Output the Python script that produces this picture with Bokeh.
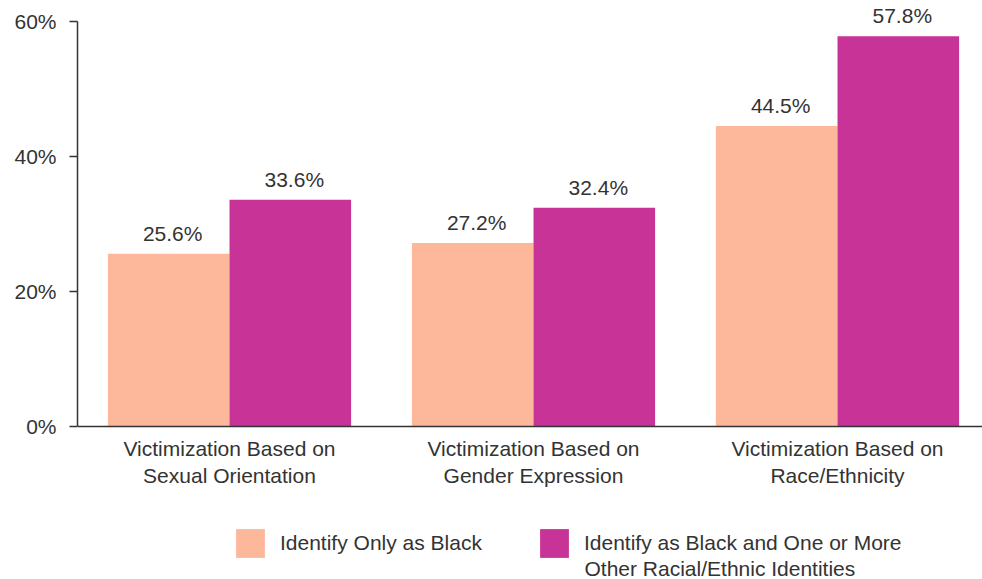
from bokeh.plotting import figure
from bokeh.models import (ColumnDataSource, LabelSet, Label, Legend, LegendItem, FixedTicker,
                          Range1d, PrintfTickFormatter, Span)
from bokeh.core.properties import value
from bokeh.transform import dodge
from bokeh.embed import file_html
from bokeh.resources import INLINE

categories = ["Victimization Based on\nSexual Orientation",
              "Victimization Based on\nGender Expression",
              "Victimization Based on\nRace/Ethnicity"]
only_black = [25.6, 27.2, 44.5]
black_multi = [33.6, 32.4, 57.8]
series_names = ["Identify Only as Black",
                "Identify as Black and One or More\nOther Racial/Ethnic Identities"]
y_ticks = [0, 20, 40, 60]

colors = ["#FDB79B", "#C73396"]
FONT = "Liberation Sans"
TXT = "#333333"
FS = "21px"

xpos = [i + 0.5 for i in range(len(categories))]
src = ColumnDataSource(dict(
    x=xpos,
    base=[0] * len(categories),
    cat1=[c.split("\n")[0] for c in categories],
    cat2=[c.split("\n")[1] for c in categories],
    a=only_black,
    b=black_multi,
    a_txt=[f"{v:.1f}%" for v in only_black],
    b_txt=[f"{v:.1f}%" for v in black_multi],
))

p = figure(width=982, height=579, output_backend="svg", toolbar_location=None,
           x_range=Range1d(0, 2.977), y_range=Range1d(-22.67, 63.11),
           min_border_left=77, min_border_right=0, min_border_top=0,
           min_border_bottom=0)
p.outline_line_color = None
p.xgrid.grid_line_color = None
p.ygrid.grid_line_color = None
p.xaxis.visible = False

r1 = p.vbar(x=dodge("x", -0.2), top="a", width=0.4, source=src,
            fill_color=colors[0], line_color=None)
r2 = p.vbar(x=dodge("x", 0.2), top="b", width=0.4, source=src,
            fill_color=colors[1], line_color=None)

# baseline (x axis line)
p.add_layout(Span(location=0, dimension="width", line_color=TXT, line_width=1.5))

for col, txt, off in (("a", "a_txt", -0.2), ("b", "b_txt", 0.2)):
    p.add_layout(LabelSet(x=dodge("x", off), y=col, text=txt, source=src,
                          text_align="center", text_baseline="alphabetic",
                          x_offset=4, y_offset=13, text_font=value(FONT),
                          text_font_size=FS, text_color=TXT))

# category labels under the baseline (two centred lines)
for col, yoff in (("cat1", -11), ("cat2", -38)):
    p.add_layout(LabelSet(x="x", y="base", text=col, source=src,
                          text_align="center", text_baseline="top",
                          y_offset=yoff, text_font=value(FONT),
                          text_font_size=FS, text_color=TXT))

# y axis
yax = p.yaxis[0]
yax.ticker = FixedTicker(ticks=y_ticks)
yax.bounds = (0, 60)
yax.formatter = PrintfTickFormatter(format="%d%%")
yax.axis_line_color = TXT
yax.axis_line_width = 1.5
yax.major_tick_line_color = TXT
yax.major_tick_line_width = 1.5
yax.major_tick_out = 8
yax.major_tick_in = 0
yax.minor_tick_line_color = None
yax.major_label_standoff = 13
yax.major_label_text_font = FONT
yax.major_label_text_font_size = FS
yax.major_label_text_color = TXT

# legend: one box per series, placed below the bars
leg_lines = series_names[1].split("\n")
for r, name, loc in ((r1, series_names[0], (155, 18)),
                     (r2, leg_lines[0], (459, 18))):
    lg = Legend(items=[LegendItem(label=name, renderers=[r])],
                location=loc, orientation="horizontal",
                glyph_width=36, glyph_height=36,
                label_standoff=12, padding=0, margin=0, spacing=0,
                border_line_color=None, background_fill_color=None,
                background_fill_alpha=0,
                label_text_font=FONT, label_text_font_size=FS,
                label_text_color=TXT)
    p.add_layout(lg, "center")

p.add_layout(Label(x=507, y=11, x_units="screen", y_units="screen",
                   text=leg_lines[1], text_baseline="middle", text_align="left",
                   text_font=FONT, text_font_size=FS, text_color=TXT))

open("out.html", "w").write(file_html(p, INLINE))
